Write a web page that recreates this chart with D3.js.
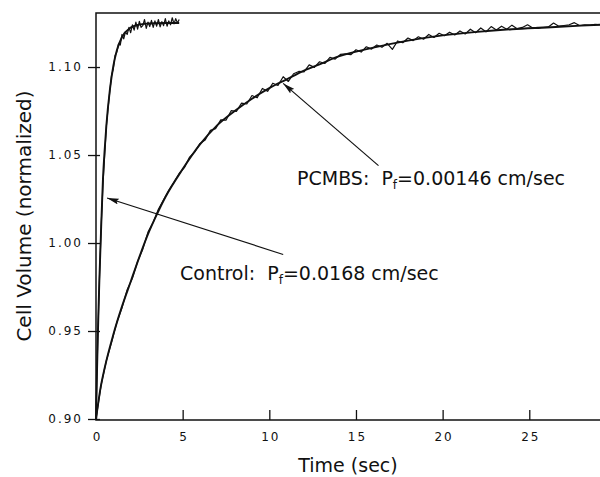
<!DOCTYPE html>
<html>
<head>
<meta charset="utf-8">
<script src="https://cdn.jsdelivr.net/npm/d3@7/dist/d3.min.js"></script>
<style>
    body { margin: 0; background: #fff; }
    text { font-family: "DejaVu Sans", sans-serif; fill: #111; }
</style>
</head>
<body>
<svg id="chart" width="600" height="477"></svg>
<script>
// Control (fast swelling): smooth fit
const controlFitTime = [0, 0.05, 0.1, 0.15, 0.2, 0.3, 0.4, 0.5, 0.6, 0.8, 1.0, 1.2, 1.5, 2.0, 2.5, 3.0, 3.5, 4.0, 4.8];
const controlFitVol = [0.900, 0.9237, 0.9448, 0.9638, 0.9807, 1.0095, 1.0360, 1.0530, 1.0670, 1.0870, 1.1006, 1.1094, 1.1170, 1.1224, 1.1241, 1.1247, 1.1249, 1.1250, 1.1250];

// Control: raw trace
const controlRawTime = [0, 0.1, 0.2, 0.3, 0.4, 0.5, 0.6, 0.7, 0.8, 0.9, 1.0, 1.1, 1.2, 1.3, 1.4, 1.5, 1.6, 1.7, 1.8, 1.9,
    2.0, 2.1, 2.2, 2.3, 2.4, 2.5, 2.6, 2.7, 2.8, 2.9, 3.0, 3.1, 3.2, 3.3, 3.4, 3.5, 3.6, 3.7, 3.8, 3.9,
    4.0, 4.1, 4.2, 4.3, 4.4, 4.5, 4.6, 4.7, 4.8];
const controlRawVol = [0.9000, 0.9455, 0.9800, 1.0100, 1.0330, 1.0500, 1.0665, 1.0770, 1.0865, 1.0955, 1.0990, 1.1065, 1.1085, 1.1130, 1.1125, 1.1185, 1.1160, 1.1200, 1.1185, 1.1225,
    1.1195, 1.1240, 1.1210, 1.1255, 1.1215, 1.1260, 1.1225, 1.1235, 1.1270, 1.1220, 1.1255, 1.1230, 1.1265, 1.1225, 1.1262, 1.1232, 1.1270, 1.1228, 1.1258, 1.1235,
    1.1275, 1.1232, 1.1262, 1.1240, 1.1280, 1.1245, 1.1275, 1.1250, 1.1270];

// PCMBS (slow swelling): smooth fit
const pcmbsFitTime = [0, 0.25, 0.5, 1, 1.5, 2, 2.5, 3, 3.5, 4, 5, 6, 7, 8, 9, 10, 11, 12, 13, 14, 16, 18, 20, 22, 24, 26, 28, 29.1];
const pcmbsFitVol = [0.900, 0.917, 0.929, 0.948, 0.964, 0.978, 0.992, 1.005, 1.016, 1.026, 1.042, 1.056, 1.067, 1.075, 1.082, 1.088, 1.093, 1.098, 1.102, 1.106,
    1.111, 1.115, 1.118, 1.120, 1.1215, 1.1225, 1.1235, 1.124];

// PCMBS: raw trace
const pcmbsRawTime = [0, 0.3, 0.6, 0.9, 1.2, 1.5, 1.8, 2.1, 2.4, 2.7, 3.0, 3.3, 3.6, 3.9, 4.2, 4.5, 4.8, 5.1, 5.4, 5.7,
    6.0, 6.3, 6.6, 6.9, 7.2, 7.5, 7.8, 8.1, 8.4, 8.7, 9.0, 9.3, 9.6, 9.9, 10.2, 10.5, 10.8, 11.1, 11.4, 11.7,
    12.0, 12.3, 12.6, 12.9, 13.2, 13.5, 13.8, 14.1, 14.4, 14.7, 15.0, 15.3, 15.6, 15.9, 16.2, 16.5, 16.8, 17.1, 17.4, 17.7,
    18.0, 18.3, 18.6, 18.9, 19.2, 19.5, 19.8, 20.1, 20.4, 20.7, 21.0, 21.3, 21.6, 21.9, 22.2, 22.5, 22.8, 23.1, 23.4, 23.7,
    24.0, 24.3, 24.6, 24.9, 25.2, 25.5, 25.8, 26.1, 26.4, 26.7, 27.0, 27.3, 27.6, 27.9, 28.2, 28.5, 28.8, 29.1];
const pcmbsRawVol = [0.9000, 0.9195, 0.9332, 0.9435, 0.9548, 0.9632, 0.9735, 0.9800, 0.9895, 0.9965, 1.0062, 1.0118, 1.0192, 1.0245, 1.0300, 1.0345, 1.0395, 1.0428, 1.0488, 1.0518,
    1.0566, 1.0585, 1.0640, 1.0650, 1.0700, 1.0698, 1.0752, 1.0748, 1.0795, 1.0790, 1.0838, 1.0825, 1.0878, 1.0862, 1.0908, 1.0895, 1.0945, 1.0918, 1.0962, 1.0975,
    1.0972, 1.1012, 1.0998, 1.1030, 1.1020, 1.1055, 1.1045, 1.1072, 1.1075, 1.1070, 1.1098, 1.1085, 1.1115, 1.1102, 1.1125, 1.1112, 1.1135, 1.1100, 1.1148, 1.1138,
    1.1165, 1.1150, 1.1172, 1.1158, 1.1185, 1.1168, 1.1192, 1.1178, 1.1198, 1.1182, 1.1205, 1.1188, 1.1215, 1.1195, 1.1222, 1.1200, 1.1230, 1.1210, 1.1232, 1.1215,
    1.1238, 1.1218, 1.1225, 1.1240, 1.1222, 1.1225, 1.1226, 1.1228, 1.1250, 1.1232, 1.1236, 1.1240, 1.1252, 1.1236, 1.1240, 1.1238, 1.1242, 1.1240];

// Ticks
const xTicks = [0, 5, 10, 15, 20, 25];
const yTicks = [0.90, 0.95, 1.00, 1.05, 1.10];

// Annotations: arrow head (on curve), arrow tail, label anchor (data units)
const controlArrow = { head: [0.64, 1.0256], tail: [10.8, 0.9935] };
const pcmbsArrow = { head: [10.8, 1.0907], tail: [16.3, 1.0440] };
const controlLabel = { at: [4.85, 0.9787], name: "Control:  ", value: "=0.0168 cm/sec" };
const pcmbsLabel = { at: [11.6, 1.0330], name: "PCMBS:  ", value: "=0.00146 cm/sec" };

const svg = d3.select("#chart");

const x = d3.scaleLinear().domain([0, 29.08]).range([96, 600]);
const y = d3.scaleLinear().domain([0.9, 1.1307]).range([419, 13]);

// Frame: left, top and bottom lines
svg.append("path")
    .attr("d", `M600,${y.range()[1]}H${x(0)}V${y(0.9) + 1}H600`)
    .attr("fill", "none")
    .attr("stroke", "#111")
    .attr("stroke-width", 1.5);

// X axis, ticks pointing inward
const xAxis = svg.append("g")
    .attr("transform", `translate(0,${y(0.9) + 1})`)
    .call(d3.axisBottom(x).tickValues(xTicks).tickSize(-10).tickSizeOuter(0).tickPadding(12).tickFormat(d3.format("d")));
xAxis.select(".domain").remove();
xAxis.selectAll(".tick line").attr("stroke", "#111").attr("stroke-width", 1.3);
xAxis.selectAll(".tick text")
    .style("font-size", "12px")
    .style("letter-spacing", "2px")
    .attr("dx", "1px");

// Y axis, ticks crossing the axis
const yAxis = svg.append("g")
    .attr("transform", `translate(${x(0)},0)`)
    .call(d3.axisLeft(y).tickValues(yTicks).tickSize(7).tickSizeOuter(0).tickPadding(6).tickFormat(d3.format(".2f")));
yAxis.select(".domain").remove();
yAxis.selectAll(".tick line").attr("stroke", "#111").attr("stroke-width", 1.3).attr("x2", 4).attr("x1", -8);
yAxis.selectAll(".tick text")
    .style("font-size", "12px")
    .style("letter-spacing", "2px");

// Axis titles
svg.append("text")
    .attr("x", (x.range()[0] + x.range()[1]) / 2)
    .attr("y", 472)
    .attr("text-anchor", "middle")
    .style("font-size", "19px")
    .text("Time (sec)");

svg.append("text")
    .attr("transform", `translate(31,${(y.range()[0] + y.range()[1]) / 2}) rotate(-90)`)
    .attr("text-anchor", "middle")
    .style("font-size", "20px")
    .text("Cell Volume (normalized)");

// Curves
const line = d3.line().x((d) => x(d[0])).y((d) => y(d[1]));
const smooth = d3.line().x((d) => x(d[0])).y((d) => y(d[1])).curve(d3.curveMonotoneX);

function drawTrace(times, vols, gen, width) {
    svg.append("path")
        .datum(d3.zip(times, vols))
        .attr("fill", "none")
        .attr("stroke", "#111")
        .attr("stroke-width", width)
        .attr("stroke-linejoin", "round")
        .attr("d", gen);
}

drawTrace(controlRawTime, controlRawVol, line, 1.2);
drawTrace(controlFitTime, controlFitVol, smooth, 1.9);
drawTrace(pcmbsRawTime, pcmbsRawVol, line, 1.2);
drawTrace(pcmbsFitTime, pcmbsFitVol, smooth, 1.9);

// Arrow marker
svg.append("defs").append("marker")
    .attr("id", "head")
    .attr("viewBox", "0 0 12 6")
    .attr("refX", 12)
    .attr("refY", 3)
    .attr("markerWidth", 12)
    .attr("markerHeight", 6)
    .attr("markerUnits", "userSpaceOnUse")
    .attr("orient", "auto-start-reverse")
    .append("path")
    .attr("d", "M0,0L12,3L0,6L2,3Z")
    .attr("fill", "#111");

[controlArrow, pcmbsArrow].forEach((a) => {
    svg.append("line")
        .attr("x1", x(a.head[0]))
        .attr("y1", y(a.head[1]))
        .attr("x2", x(a.tail[0]))
        .attr("y2", y(a.tail[1]))
        .attr("stroke", "#111")
        .attr("stroke-width", 1.2)
        .attr("marker-start", "url(#head)");
});

// Labels with subscript f
[controlLabel, pcmbsLabel].forEach((l) => {
    const t = svg.append("text")
        .attr("x", x(l.at[0]))
        .attr("y", y(l.at[1]))
        .style("font-size", "19px")
        .attr("xml:space", "preserve");
    t.append("tspan").text(l.name + "P");
    t.append("tspan").text("f").style("font-size", "12px").attr("dy", 4);
    t.append("tspan").text(l.value).attr("dy", -4);
});
</script>
</body>
</html>
